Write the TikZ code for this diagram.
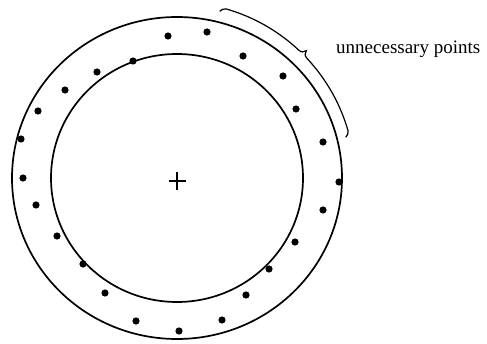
\documentclass[tikz,border=0pt]{standalone}
\usepackage{fontspec}
\setmainfont{Liberation Serif}

\begin{document}
\begin{tikzpicture}[x=1pt,y=1pt,ring/.style={line width=1.7pt},brace/.style={line width=1.2pt},dot/.style={fill=black},lbl/.style={font=\fontsize{19}{21}\selectfont,anchor=west,inner sep=0pt}]
\useasboundingbox (0,0) rectangle (487,343);
\coordinate (c) at (177,165);
\draw[ring] (c) circle[x radius=165, y radius=161];
\draw[ring] (c) circle[x radius=126, y radius=124];
\draw[line width=1.7pt] (168.5,162)--(185.5,162) (177,153)--(177,171);
% points in the ring
\foreach \px/\py in {168/307,207/311,243/287,133/282,97/271,65/253,38/232,21/204,23/165,36/138,57/107,83/79,105/50,136/22,179/12,222/23,246/48,269/74,295/101,323/133,339/161,323/201,296/234,283/267}
  \fill[dot] (\px,\py) circle (3.6);
\begin{scope}[shift={(177,163)}]
\draw[brace] (75.8:174) .. controls (75:177) .. (74:178) arc[start angle=74, end angle=47, radius=178]
  .. controls (45.6:178) and (45.3:180) .. (45:183) .. controls (44.7:180) and (44.4:178) .. (43:178)
  arc[start angle=43, end angle=16, radius=178] .. controls (15:177) .. (14.2:174);
\coordinate (tip) at (45:183);
\end{scope}
\node[lbl] (note) at (336,294) {unnecessary points};
\end{tikzpicture}
\end{document}
